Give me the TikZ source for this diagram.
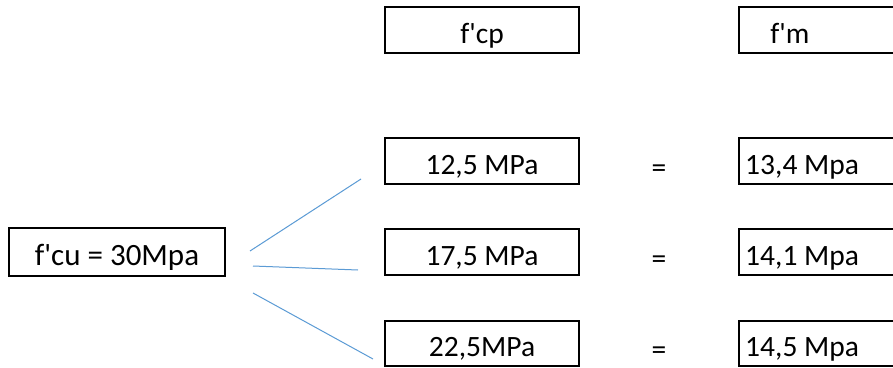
\documentclass[tikz,border=0pt]{standalone}
\usepackage{fontspec}
\setmainfont{Carlito}
\newcommand{\pr}{\textquotesingle}
\begin{document}
\begin{tikzpicture}[x=1pt,y=1pt,
  lbl/.style={font=\fontsize{29.5}{31}\selectfont, text height=30pt, text depth=4pt, inner sep=0pt},
  box/.style={draw=black, line width=2.1pt, minimum height=46pt, inner sep=0pt},
  link/.style={draw={rgb,255:red,91;green,155;blue,213}, line width=1pt}
]
\clip (0,0) rectangle (893,-367);
\fill[white] (0,0) rectangle (893,-367);

% source strength
\node[box, lbl, font=\fontsize{31}{33}\selectfont, minimum width=216pt, minimum height=48pt] (fcu) at (117,-252) {f\pr cu = 30Mpa};

% column headers
\node[box, lbl, minimum width=194pt] (fcp) at (482,-30) {f\pr cp};
\node[box, minimum width=210pt, anchor=west] (fmbox) at (738,-30) {};
\node[lbl] (fm) at (790,-30) {f\pr m};

% left column values
\node[box, lbl, minimum width=194pt] (a1) at (482,-161) {12,5 MPa};
\node[box, lbl, minimum width=194pt] (a2) at (482,-252) {17,5 MPa};
\node[box, lbl, minimum width=194pt, minimum height=45pt] (a3) at (482,-343.5) {22,5MPa};

% equals signs
\node[lbl] (e1) at (659,-164) {=};
\node[lbl] (e2) at (659,-255) {=};
\node[lbl] (e3) at (659,-346.5) {=};

% right column values
\node[box, minimum width=210pt, anchor=west] (b1box) at (738,-161) {};
\node[box, minimum width=210pt, anchor=west] (b2box) at (738,-252) {};
\node[box, minimum width=210pt, minimum height=45pt, anchor=west] (b3box) at (738,-343.5) {};
\node[lbl, anchor=west] (b1) at (745,-161) {13,4 Mpa};
\node[lbl, anchor=west] (b2) at (745,-252) {14,1 Mpa};
\node[lbl, anchor=west] (b3) at (745,-343.5) {14,5 Mpa};

% branching connectors
\coordinate (s1) at (250,-251);
\coordinate (t1) at (361,-179);
\coordinate (s2) at (253,-266);
\coordinate (t2) at (358,-270);
\coordinate (s3) at (253,-293);
\coordinate (t3) at (373,-359);
\draw[link] (s1) -- (t1);
\draw[link] (s2) -- (t2);
\draw[link] (s3) -- (t3);
\end{tikzpicture}
\end{document}
